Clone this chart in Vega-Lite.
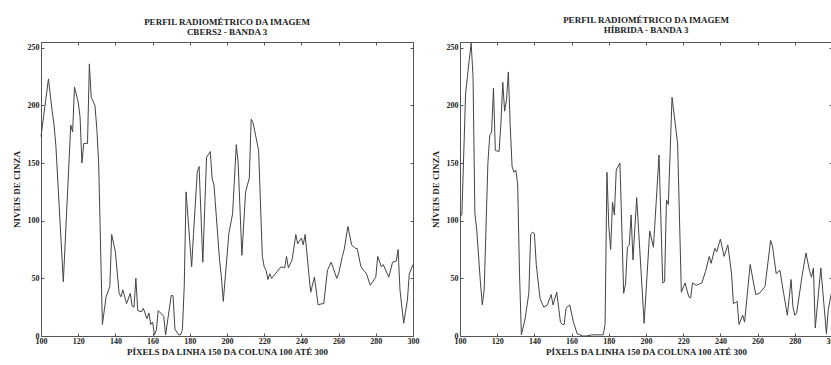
{
  "$schema": "https://vega.github.io/schema/vega-lite/v6.json",
  "padding": {"left": 11, "top": 15, "right": 0, "bottom": 0},
  "background": "white",
  "spacing": 10,
  "config": {
    "view": {"stroke": "#555", "strokeWidth": 1},
    "font": "Liberation Serif",
    "axis": {
      "labelFont": "Liberation Serif", "labelFontWeight": "bold", "labelFontSize": 8, "labelColor": "#222",
      "titleFont": "Liberation Serif", "titleFontWeight": "bold", "titleFontSize": 9, "titleColor": "#222",
      "grid": false, "domain": false, "tickSize": -3, "tickColor": "#555", "labelFlush": false
    },
    "title": {"font": "Liberation Serif", "fontWeight": "bold", "fontSize": 9, "color": "#222", "lineHeight": 10, "offset": 5}
  },
  "datasets": {
    "cbers": [
      {"x":100,"v":173},{"x":104,"v":223},{"x":106,"v":195},{"x":107,"v":183},{"x":108,"v":165},{"x":112,"v":47},
      {"x":116,"v":183},{"x":117,"v":177},{"x":118,"v":216},{"x":120,"v":203},{"x":121,"v":190},{"x":122,"v":150},
      {"x":123,"v":167},{"x":125,"v":167},{"x":126,"v":236},{"x":127,"v":207},{"x":129,"v":200},{"x":130,"v":180},
      {"x":131,"v":150},{"x":133,"v":10},{"x":135,"v":34},{"x":137,"v":43},{"x":138,"v":88},{"x":140,"v":73},
      {"x":142,"v":37},{"x":143,"v":34},{"x":144,"v":40},{"x":146,"v":28},{"x":148,"v":37},{"x":149,"v":26},
      {"x":150,"v":25},{"x":151,"v":50},{"x":152,"v":22},{"x":154,"v":21},{"x":155,"v":24},{"x":157,"v":15},
      {"x":158,"v":20},{"x":159,"v":10},{"x":160,"v":12},{"x":161,"v":1},{"x":162,"v":5},{"x":163,"v":22},
      {"x":166,"v":17},{"x":167,"v":1},{"x":170,"v":35},{"x":171,"v":35},{"x":172,"v":6},{"x":174,"v":1},
      {"x":175,"v":1},{"x":176,"v":5},{"x":177,"v":43},{"x":178,"v":125},{"x":181,"v":60},{"x":182,"v":89},
      {"x":184,"v":142},{"x":185,"v":147},{"x":187,"v":64},{"x":189,"v":155},{"x":191,"v":160},{"x":192,"v":137},
      {"x":193,"v":131},{"x":196,"v":66},{"x":197,"v":51},{"x":198,"v":30},{"x":201,"v":89},{"x":203,"v":106},
      {"x":205,"v":166},{"x":206,"v":150},{"x":208,"v":70},{"x":210,"v":125},{"x":212,"v":137},{"x":213,"v":188},
      {"x":214,"v":185},{"x":217,"v":161},{"x":219,"v":69},{"x":220,"v":60},{"x":221,"v":57},{"x":222,"v":49},
      {"x":223,"v":54},{"x":224,"v":50},{"x":227,"v":56},{"x":229,"v":60},{"x":231,"v":59},{"x":232,"v":69},
      {"x":233,"v":59},{"x":235,"v":66},{"x":237,"v":88},{"x":238,"v":80},{"x":240,"v":85},{"x":241,"v":79},
      {"x":242,"v":88},{"x":244,"v":54},{"x":245,"v":38},{"x":247,"v":51},{"x":249,"v":27},{"x":251,"v":28},
      {"x":252,"v":28},{"x":254,"v":57},{"x":256,"v":64},{"x":259,"v":50},{"x":260,"v":54},{"x":262,"v":69},
      {"x":263,"v":75},{"x":265,"v":95},{"x":267,"v":79},{"x":269,"v":76},{"x":270,"v":76},{"x":272,"v":60},
      {"x":274,"v":56},{"x":275,"v":54},{"x":277,"v":44},{"x":280,"v":51},{"x":281,"v":69},{"x":283,"v":60},
      {"x":284,"v":62},{"x":287,"v":51},{"x":289,"v":64},{"x":291,"v":65},{"x":292,"v":75},{"x":293,"v":40},
      {"x":295,"v":11},{"x":297,"v":31},{"x":298,"v":54},{"x":300,"v":62}
    ],
    "hibrida": [
      {"x":100,"v":104},{"x":101,"v":105},{"x":103,"v":210},{"x":104,"v":225},{"x":105,"v":240},{"x":106,"v":254},
      {"x":107,"v":225},{"x":108,"v":106},{"x":109,"v":92},{"x":111,"v":46},{"x":112,"v":27},{"x":113,"v":40},
      {"x":115,"v":150},{"x":116,"v":174},{"x":117,"v":177},{"x":118,"v":215},{"x":119,"v":161},{"x":121,"v":160},
      {"x":122,"v":184},{"x":123,"v":220},{"x":124,"v":195},{"x":125,"v":205},{"x":126,"v":229},{"x":127,"v":182},
      {"x":128,"v":147},{"x":129,"v":142},{"x":130,"v":144},{"x":131,"v":132},{"x":132,"v":54},{"x":133,"v":1},
      {"x":135,"v":15},{"x":137,"v":37},{"x":138,"v":88},{"x":139,"v":90},{"x":140,"v":89},{"x":141,"v":62},
      {"x":143,"v":33},{"x":145,"v":25},{"x":147,"v":27},{"x":149,"v":36},{"x":150,"v":27},{"x":152,"v":38},
      {"x":154,"v":12},{"x":155,"v":10},{"x":156,"v":10},{"x":157,"v":24},{"x":159,"v":27},{"x":161,"v":12},
      {"x":163,"v":2},{"x":166,"v":0},{"x":168,"v":0},{"x":171,"v":1},{"x":177,"v":1},{"x":178,"v":10},
      {"x":179,"v":142},{"x":180,"v":95},{"x":181,"v":75},{"x":182,"v":116},{"x":183,"v":105},{"x":184,"v":144},
      {"x":186,"v":150},{"x":188,"v":37},{"x":189,"v":45},{"x":190,"v":77},{"x":191,"v":79},{"x":192,"v":105},
      {"x":193,"v":66},{"x":195,"v":120},{"x":199,"v":11},{"x":202,"v":91},{"x":204,"v":77},{"x":207,"v":157},
      {"x":209,"v":46},{"x":210,"v":47},{"x":211,"v":118},{"x":212,"v":114},{"x":214,"v":207},{"x":217,"v":167},
      {"x":219,"v":38},{"x":221,"v":46},{"x":223,"v":34},{"x":224,"v":33},{"x":225,"v":46},{"x":227,"v":44},
      {"x":230,"v":46},{"x":232,"v":56},{"x":234,"v":69},{"x":235,"v":63},{"x":237,"v":76},{"x":238,"v":73},
      {"x":240,"v":84},{"x":242,"v":69},{"x":244,"v":79},{"x":246,"v":54},{"x":247,"v":28},{"x":249,"v":30},
      {"x":250,"v":10},{"x":252,"v":18},{"x":253,"v":12},{"x":256,"v":62},{"x":259,"v":36},{"x":261,"v":37},
      {"x":264,"v":43},{"x":267,"v":83},{"x":268,"v":78},{"x":270,"v":54},{"x":272,"v":57},{"x":274,"v":37},
      {"x":276,"v":18},{"x":278,"v":49},{"x":279,"v":25},{"x":280,"v":18},{"x":281,"v":20},{"x":284,"v":53},
      {"x":286,"v":72},{"x":288,"v":56},{"x":289,"v":51},{"x":290,"v":59},{"x":291,"v":7},{"x":294,"v":59},
      {"x":295,"v":40},{"x":297,"v":2},{"x":298,"v":23},{"x":300,"v":40}
    ]
  },
  "hconcat": [
    {
      "width": 372, "height": 294,
      "title": {"text": ["PERFIL RADIOMÉTRICO DA IMAGEM", "CBERS2 - BANDA 3"]},
      "data": {"name": "cbers"},
      "resolve": {"axis": {"x": "independent", "y": "independent"}},
      "layer": [
        {
          "mark": {"type": "line", "color": "#444", "strokeWidth": 1},
          "encoding": {
            "x": {"field": "x", "type": "quantitative", "scale": {"domain": [100, 300], "nice": false},
                  "axis": {"orient": "bottom", "values": [100,120,140,160,180,200,220,240,260,280,300], "title": "PÍXELS DA LINHA 150 DA COLUNA 100 ATÉ 300", "labelPadding": 4, "titlePadding": 2}},
            "y": {"field": "v", "type": "quantitative", "scale": {"domain": [0, 255], "nice": false},
                  "axis": {"orient": "left", "values": [0,50,100,150,200,250], "title": "NIVEIS DE CINZA", "labelPadding": 5, "titlePadding": 6}}
          }
        },
        {
          "mark": {"type": "point", "opacity": 0},
          "encoding": {
            "x": {"field": "x", "type": "quantitative", "axis": {"orient": "top", "values": [100,120,140,160,180,200,220,240,260,280,300], "labels": false, "title": null}},
            "y": {"field": "v", "type": "quantitative", "axis": {"orient": "right", "values": [0,50,100,150,200,250], "labels": false, "title": null}}
          }
        }
      ]
    },
    {
      "width": 372, "height": 294,
      "title": {"text": ["PERFIL RADIOMÉTRICO DA IMAGEM", "HÍBRIDA - BANDA 3"]},
      "data": {"name": "hibrida"},
      "resolve": {"axis": {"x": "independent", "y": "independent"}},
      "layer": [
        {
          "mark": {"type": "line", "color": "#444", "strokeWidth": 1},
          "encoding": {
            "x": {"field": "x", "type": "quantitative", "scale": {"domain": [100, 300], "nice": false},
                  "axis": {"orient": "bottom", "values": [100,120,140,160,180,200,220,240,260,280,300], "title": "PÍXELS DA LINHA 150 DA COLUNA 100 ATÉ 300", "labelPadding": 4, "titlePadding": 2}},
            "y": {"field": "v", "type": "quantitative", "scale": {"domain": [0, 255], "nice": false},
                  "axis": {"orient": "left", "values": [0,50,100,150,200,250], "title": "NÍVEIS DE CINZA", "labelPadding": 5, "titlePadding": 6}}
          }
        },
        {
          "mark": {"type": "point", "opacity": 0},
          "encoding": {
            "x": {"field": "x", "type": "quantitative", "axis": {"orient": "top", "values": [100,120,140,160,180,200,220,240,260,280,300], "labels": false, "title": null}},
            "y": {"field": "v", "type": "quantitative", "axis": {"orient": "right", "values": [0,50,100,150,200,250], "labels": false, "title": null}}
          }
        }
      ]
    }
  ]
}
